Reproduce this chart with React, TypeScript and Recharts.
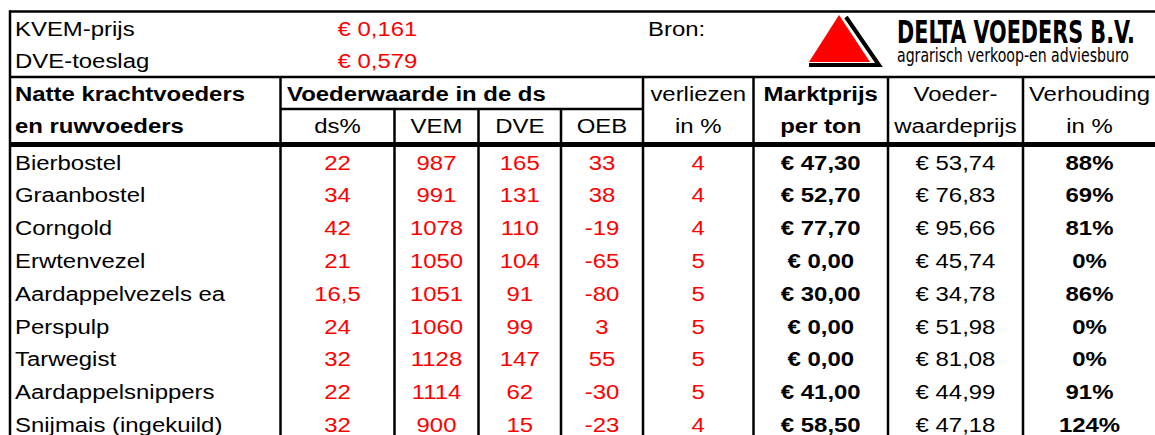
import { ScatterChart, Scatter, XAxis, YAxis, ReferenceLine, Customized } from "recharts"

const W = 1155
const H = 435

// prijzen
const kvemPrijs = 0.161
const dveToeslag = 0.579

const voeders = [
  "Bierbostel",
  "Graanbostel",
  "Corngold",
  "Erwtenvezel",
  "Aardappelvezels ea",
  "Perspulp",
  "Tarwegist",
  "Aardappelsnippers",
  "Snijmais (ingekuild)",
]
const dsPct = [22, 34, 42, 21, 16.5, 24, 32, 22, 32]
const vem = [987, 991, 1078, 1050, 1051, 1060, 1128, 1114, 900]
const dve = [165, 131, 110, 104, 91, 99, 147, 62, 15]
const oeb = [33, 38, -19, -65, -80, 3, 55, -30, -23]
const verliezen = [4, 4, 4, 5, 5, 5, 5, 5, 4]
const marktprijs = [47.3, 52.7, 77.7, 0, 30, 0, 0, 41, 58.5]
const voederwaardeprijs = [53.74, 76.83, 95.66, 45.74, 34.78, 51.98, 81.08, 44.99, 47.18]
const verhouding = [88, 69, 81, 0, 86, 0, 0, 91, 124]

// layout
const colEdges = [10, 280.5, 394.5, 478.5, 561, 643, 753.5, 888, 1023, 1156]
const mid = (c: number) => (colEdges[c] + colEdges[c + 1]) / 2
const rowY = (i: number) => 169.5 + i * 32.8
const SX = 1.14
const RED = "#ff0000"

const nl = (v: number, d?: number) => (d === undefined ? String(v) : v.toFixed(d)).replace(".", ",")
const euro = (v: number, d = 2) => "€ " + nl(v, d)

type Cell = { x: number; y: number; label: string; color?: string; bold?: boolean; anchor?: string }

const cells: Cell[] = [
  { x: 15, y: 36, label: "KVEM-prijs" },
  { x: mid(1), y: 36, label: euro(kvemPrijs, 3), color: RED },
  { x: 648, y: 36, label: "Bron:" },
  { x: 15, y: 68, label: "DVE-toeslag" },
  { x: mid(1), y: 68, label: euro(dveToeslag, 3), color: RED },

  { x: 15, y: 101, label: "Natte krachtvoeders", bold: true },
  { x: 15, y: 133, label: "en ruwvoeders", bold: true },
  { x: 287, y: 101, label: "Voederwaarde in de ds", bold: true },
  { x: mid(1), y: 133, label: "ds%", anchor: "middle" },
  { x: mid(2), y: 133, label: "VEM", anchor: "middle" },
  { x: mid(3), y: 133, label: "DVE", anchor: "middle" },
  { x: mid(4), y: 133, label: "OEB", anchor: "middle" },
  { x: mid(5), y: 101, label: "verliezen", anchor: "middle" },
  { x: mid(5), y: 133, label: "in %", anchor: "middle" },
  { x: mid(6), y: 101, label: "Marktprijs", anchor: "middle", bold: true },
  { x: mid(6), y: 133, label: "per ton", anchor: "middle", bold: true },
  { x: mid(7), y: 101, label: "Voeder-", anchor: "middle" },
  { x: mid(7), y: 133, label: "waardeprijs", anchor: "middle" },
  { x: mid(8), y: 101, label: "Verhouding", anchor: "middle" },
  { x: mid(8), y: 133, label: "in %", anchor: "middle" },
]

voeders.forEach((naam, i) => {
  const y = rowY(i)
  cells.push(
    { x: 15, y, label: naam },
    { x: mid(1), y, label: nl(dsPct[i]), color: RED, anchor: "middle" },
    { x: mid(2), y, label: nl(vem[i]), color: RED, anchor: "middle" },
    { x: mid(3), y, label: nl(dve[i]), color: RED, anchor: "middle" },
    { x: mid(4), y, label: nl(oeb[i]), color: RED, anchor: "middle" },
    { x: mid(5), y, label: nl(verliezen[i]), color: RED, anchor: "middle" },
    { x: mid(6), y, label: euro(marktprijs[i]), bold: true, anchor: "middle" },
    { x: mid(7), y, label: euro(voederwaardeprijs[i]), anchor: "middle" },
    { x: mid(8), y, label: verhouding[i] + "%", bold: true, anchor: "middle" },
  )
})

// rasterlijnen [x1, y1, x2, y2, dikte]
const lines: number[][] = [
  [9, 11.5, 1155, 11.5, 2.5],
  [9, 77, 1155, 77, 2.5],
  [280.5, 109, 643, 109, 2.5],
  [9, 144.5, 1155, 144.5, 5],
  [10, 10.5, 10, 435, 2.5],
  [280.5, 77, 280.5, 435, 2.5],
  [394.5, 109, 394.5, 435, 2.5],
  [478.5, 109, 478.5, 435, 2.5],
  [561, 109, 561, 435, 2.5],
  [643, 77, 643, 435, 2.5],
  [753.5, 77, 753.5, 435, 2.5],
  [888, 77, 888, 435, 2.5],
  [1023, 77, 1023, 435, 2.5],
]

const CellText = (props: any) => {
  const { cx, cy, payload } = props
  return (
    <text
      transform={`translate(${cx},${cy}) scale(${SX},1)`}
      textAnchor={payload.anchor || "start"}
      fill={payload.color || "#000"}
      fontWeight={payload.bold ? 700 : 400}
      fontSize={21}
      fontFamily="'Liberation Sans', Arial, sans-serif"
    >
      {payload.label}
    </text>
  )
}

const Logo = () => (
  <g>
    <path d="M846,17 L879,65 L809,65" fill="none" stroke="#000" strokeWidth={4} />
    <polygon points="839,15 870,62 809,62" fill="#ff0000" />
    <text
      x={897}
      y={43}
      fontSize={32}
      fontWeight={700}
      textLength={238}
      lengthAdjust="spacingAndGlyphs"
      fontFamily="'Liberation Sans Narrow', 'DejaVu Sans Condensed', sans-serif"
    >
      DELTA VOEDERS B.V.
    </text>
    <text
      x={897}
      y={62}
      fontSize={20}
      textLength={232}
      lengthAdjust="spacingAndGlyphs"
      fontFamily="'Liberation Sans Narrow', 'DejaVu Sans Condensed', sans-serif"
    >
      agrarisch verkoop-en adviesburo
    </text>
  </g>
)

export default function App() {
  return (
    <div style={{ position: "absolute", left: 0, top: 0, width: W, height: H, background: "#fff" }}>
      <ScatterChart width={W} height={H} margin={{ top: 0, right: 0, bottom: 0, left: 0 }}>
        <XAxis type="number" dataKey="x" domain={[0, W]} hide />
        <YAxis type="number" dataKey="y" domain={[0, H]} reversed hide />
        {lines.map(([x1, y1, x2, y2, w], i) => (
          <ReferenceLine
            key={i}
            segment={[{ x: x1, y: y1 }, { x: x2, y: y2 }]}
            stroke="#000"
            strokeWidth={w}
            ifOverflow="visible"
          />
        ))}
        <Customized component={Logo} />
        <Scatter data={cells} shape={CellText} isAnimationActive={false} />
      </ScatterChart>
    </div>
  )
}
